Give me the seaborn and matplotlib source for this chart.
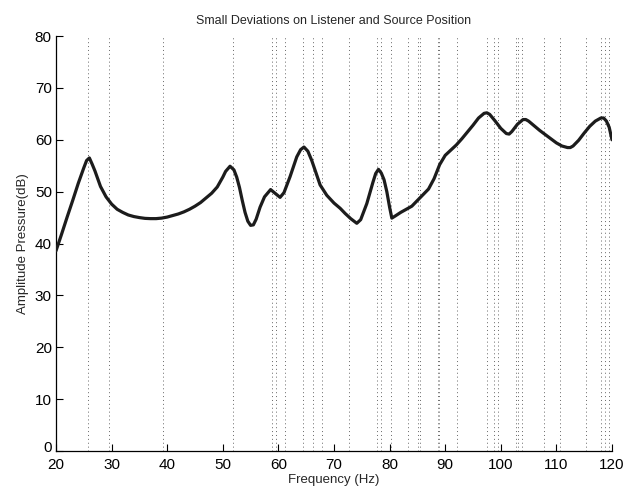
#!/usr/bin/env python3
"""
plot.py
Amplitude response with small deviations on listener and source position.
"""

import pandas as pd
import matplotlib
matplotlib.use("Agg")
import matplotlib.pyplot as plt
import matplotlib.transforms as mtransforms
import seaborn as sns

# Frequency response (Hz, dB)
freq = [20, 21, 22, 23, 24, 25, 25.5, 26, 26.5, 27, 27.5, 28, 29, 30, 31, 32, 33, 34, 35,
        36, 37, 38, 39, 40, 41, 42, 43, 44, 45, 46, 47, 48, 49, 50, 50.5, 51.3, 52, 52.5,
        53, 53.5, 54, 54.5, 55, 55.5, 56, 56.7, 57.5, 58.6, 59.5, 60.3, 61, 62.1, 63.3, 64,
        64.6, 65.3, 66, 66.8, 67.5, 68.7, 70, 71.1, 72, 73, 74.1, 74.8, 75.9, 77, 77.5, 78,
        78.5, 79, 79.5, 80, 80.4, 81, 82, 83, 84, 85, 86, 87, 88, 89, 90, 91, 92, 93, 94, 95,
        96, 97, 97.5, 98, 99, 100, 101, 101.5, 102, 103, 104, 104.5, 105, 106, 107, 108, 109,
        110, 111, 112, 112.5, 113, 114, 115, 116, 117, 118, 118.5, 119, 119.5, 120]
pressure = [38.6, 41.8, 45.1, 48.3, 51.6, 54.6, 56.0, 56.5, 55.3, 54.0, 52.5, 51.0, 49.0,
            47.6, 46.6, 46.0, 45.5, 45.2, 45.0, 44.85, 44.8, 44.8, 44.9, 45.1, 45.4, 45.7,
            46.1, 46.6, 47.2, 47.9, 48.8, 49.7, 50.9, 52.8, 53.9, 54.9, 54.2, 52.8, 50.8,
            48.3, 46.0, 44.3, 43.5, 43.6, 44.7, 47.0, 49.0, 50.4, 49.6, 48.9, 49.8, 52.9,
            56.7, 58.1, 58.6, 57.8, 56.0, 53.5, 51.3, 49.3, 47.8, 46.8, 45.8, 44.8, 43.9,
            44.6, 47.7, 51.8, 53.5, 54.3, 53.6, 52.3, 50.0, 47.0, 44.9, 45.3, 46.0, 46.6,
            47.2, 48.3, 49.4, 50.5, 52.5, 55.2, 57.0, 58.0, 59.0, 60.2, 61.5, 62.8, 64.2,
            65.1, 65.2, 64.9, 63.6, 62.2, 61.2, 61.1, 61.6, 63.0, 63.9, 63.9, 63.6, 62.7,
            61.8, 61.0, 60.2, 59.4, 58.8, 58.5, 58.5, 58.8, 59.9, 61.3, 62.6, 63.6, 64.2,
            64.2, 63.6, 62.4, 60.0]

# Mode frequencies marked by dotted vertical lines (Hz)
modes = [25.8, 29.5, 39.2, 51.8, 58.9, 59.5, 61.1, 64.4, 66.3, 67.9, 72.7, 77.8, 78.5,
         80.2, 83.3, 85.1, 85.5, 88.7, 88.9, 92.2, 97.6, 98.8, 99.5, 102.7, 103.1, 103.8,
         107.7, 110.7, 115.3, 118.1, 118.8, 119.5]

x_ticks = list(range(20, 121, 10))
y_ticks = list(range(0, 81, 10))

sns.set_style("white")
plt.rcParams["font.family"] = ["Liberation Sans", "DejaVu Sans"]

df = pd.DataFrame({"Frequency (Hz)": freq, "Amplitude Pressure(dB)": pressure})

fig = plt.figure(figsize=(6.28, 4.87), dpi=100)
ax = fig.add_axes([0.0892, 0.0739, 0.8853, 0.8521])

for f in modes:
    ax.axvline(f, color="0.4", linewidth=0.7, linestyle=(0, (1, 3)), zorder=1)

sns.lineplot(data=df, x="Frequency (Hz)", y="Amplitude Pressure(dB)", ax=ax,
             color="#1c1c1c", linewidth=2.3, sort=False, zorder=3)

ax.set_xlim(20, 120)
ax.set_ylim(0, 80)
ax.set_xticks(x_ticks)
ax.set_yticks(y_ticks)
ax.tick_params(direction="in", length=5, width=0.8, labelsize=11, colors="black",
               top=False, right=False, bottom=True, left=True)
ax.tick_params(axis="x", pad=5)
ax.tick_params(axis="y", pad=3)
for side in ["top", "right"]:
    ax.spines[side].set_visible(False)
for side in ["left", "bottom"]:
    ax.spines[side].set_color("black")
    ax.spines[side].set_linewidth(0.9)

# lift the "0" label a little, as in the reference, so it clears the "20"
lift = mtransforms.ScaledTranslation(0, 3 / 72, fig.dpi_scale_trans)
zero_label = ax.yaxis.get_major_ticks()[0].label1
zero_label.set_transform(zero_label.get_transform() + lift)

ax.set_title("Small Deviations on Listener and Source Position", fontsize=9, pad=9)
ax.set_xlabel("Frequency (Hz)", fontsize=9.5)
ax.xaxis.label.set_verticalalignment("center")
ax.xaxis.set_label_coords(0.5, -0.071)
ax.set_ylabel("Amplitude Pressure(dB)", fontsize=9.5, labelpad=4)

fig.savefig("out.png", dpi=100)
plt.close(fig)
